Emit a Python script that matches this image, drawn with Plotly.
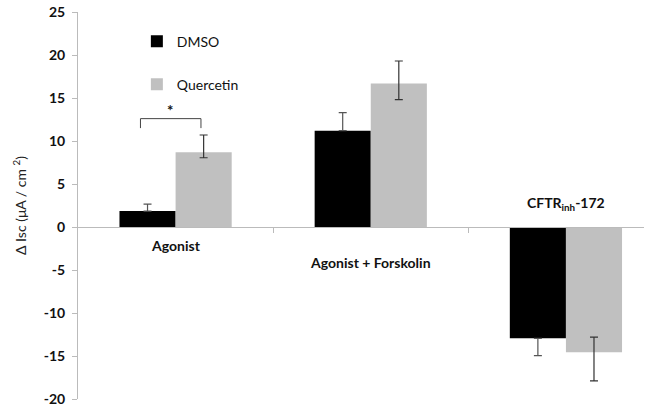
import plotly.graph_objects as go

categories = ["Agonist", "Agonist + Forskolin", "CFTR<sub>inh</sub>-172"]
dmso = [1.85, 11.2, -12.95]
dmso_err_plus = [0.8, 2.1, 0.0]
dmso_err_minus = [0.0, 0.0, 2.0]
quercetin = [8.7, 16.7, -14.55]
quer_err_plus = [2.0, 2.6, 1.75]
quer_err_minus = [0.65, 1.9, 3.35]
label_y = [-2.1, -4.1, 2.75]
y_ticks = [25, 20, 15, 10, 5, 0, -5, -10, -15, -20]
y_tick_text = ["25", "20", "15", "10", "5", "0", "-5", "-10", "-15", "-20"]
y_range = [-20, 25]
x_range = [-0.5, 2.4]
bracket_x = [-0.18, 0.13]
bracket_y = [11.5, 12.6]
star_pos = (-0.03, 13.6)

FONT = "Lato"
xs = list(range(len(categories)))

fig = go.Figure()
fig.add_trace(go.Bar(
    x=xs, y=dmso, name="DMSO", marker_color="#000000", marker_line_width=0,
    legendgroup="a",
    error_y=dict(type="data", symmetric=False, array=dmso_err_plus,
                 arrayminus=dmso_err_minus, color="#555555", thickness=1.2, width=4),
))
fig.add_trace(go.Bar(
    x=xs, y=quercetin, name="Quercetin", marker_color="#c0c0c0", marker_line_width=0,
    legendgroup="b",
    error_y=dict(type="data", symmetric=False, array=quer_err_plus,
                 arrayminus=quer_err_minus, color="#333333", thickness=1.2, width=4),
))

for x, lab, ly in zip(xs, categories, label_y):
    fig.add_annotation(x=x, y=ly, text=f"<b>{lab}</b>", showarrow=False,
                       font=dict(family=FONT, size=14, color="#111111"))

# significance bracket
fig.add_shape(type="path",
              path=f"M {bracket_x[0]} {bracket_y[0]} L {bracket_x[0]} {bracket_y[1]} "
                   f"L {bracket_x[1]} {bracket_y[1]} L {bracket_x[1]} {bracket_y[0]}",
              line=dict(color="#444444", width=1))
fig.add_annotation(x=star_pos[0], y=star_pos[1], text="<b>*</b>", showarrow=False,
                   font=dict(family=FONT, size=15, color="#111111"))

zero_frac = (0 - y_range[0]) / (y_range[1] - y_range[0])

fig.update_layout(
    width=651, height=414,
    margin=dict(l=78, r=7, t=12, b=15, autoexpand=False),
    paper_bgcolor="white", plot_bgcolor="white",
    barmode="group", bargap=0.425, bargroupgap=0,
    font=dict(family=FONT, color="#111111"),
    showlegend=True,
    legend=dict(x=0.104, y=0.965, xanchor="left", yanchor="top",
                font=dict(family=FONT, size=14, color="#111111"),
                tracegroupgap=22, itemwidth=30, bgcolor="rgba(0,0,0,0)"),
    xaxis=dict(range=x_range, anchor="free", position=zero_frac, automargin=False,
               showline=True, linecolor="#bbbbbb", linewidth=1,
               tickvals=[0.5, 1.5], ticks="outside", ticklen=5, tickcolor="#bbbbbb",
               showticklabels=False, showgrid=False, zeroline=False),
    yaxis=dict(range=y_range, tickvals=y_ticks, ticktext=y_tick_text, automargin=False,
               ticklabeloverflow="allow",
               showline=True, linecolor="#bbbbbb", ticklabelstandoff=4,
               linewidth=1, ticks="outside", ticklen=5, tickcolor="#bbbbbb",
               showgrid=False, zeroline=False,
               tickfont=dict(family=FONT, size=14, color="#111111", weight=700),
               title=dict(text="Δ Isc (μA / cm <sup>2</sup>)", standoff=13,
                          font=dict(family=FONT, size=14, color="#222222"))),
)

fig.write_html("out.html", config={"displayModeBar": False},
               post_script="document.body.style.margin='0';")
